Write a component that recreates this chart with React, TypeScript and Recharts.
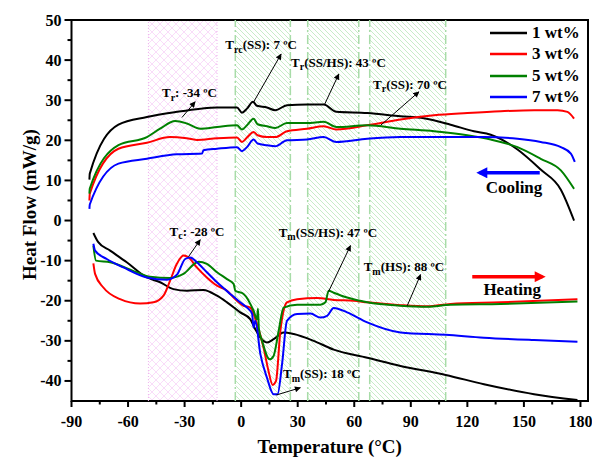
import * as React from "react";
import {
  LineChart,
  Line,
  XAxis,
  YAxis,
  Legend,
  ReferenceArea,
  ReferenceLine,
  ReferenceDot,
} from "recharts";

const FONT = "'Liberation Serif', 'Times New Roman', Times, serif";

// cooling scans (upper curves)
const coolT1 = [-80.5, -80.3, -65.1, -50, -34.1, -21.7, -12.8, -2.2, 0.4, 3.1, 6.3, 8.4, 13.7, 18.1, 24.3, 35, 43.8, 50.5, 66.9, 84.5, 96.9, 111.1, 123.5, 132.4, 146.6, 158.9, 169.6, 176.6];
const coolHF1 = [10.2, 11.7, 23.9, 25.8, 27.1, 27.9, 28.2, 28.2, 26.9, 27.9, 29.6, 28.6, 28.2, 27.5, 28.75, 28.9, 28.9, 27.1, 26.8, 26, 25.5, 23.9, 22.25, 21.4, 17.7, 12.7, 7.7, 0];
const coolT3 = [-80.5, -80.3, -65.1, -50, -37.7, -30, -23.5, -12.8, -2.2, 0.4, 3.1, 6.6, 8.7, 13.7, 18.1, 24.3, 35, 43.8, 50.5, 66.9, 84.5, 102.3, 120, 137.7, 155.4, 167.8, 173.1, 176.6];
const coolHF3 = [5, 6.7, 17.9, 19.4, 20.8, 20.6, 20.1, 20.5, 20.7, 19.6, 20.7, 22.1, 21.25, 20.8, 20.8, 22.25, 22.9, 23.5, 22.7, 23.75, 25.2, 26.25, 26.8, 27.25, 27.5, 27.5, 27.1, 25.4];
const coolT5 = [-80.5, -80.3, -65.1, -50, -43, -35, -28.8, -21.7, -12.8, -2.2, 0.4, 3.1, 6.6, 8.7, 13.7, 18.1, 24.3, 35, 43.8, 50.5, 66.9, 84.5, 102.3, 120, 132.4, 146.6, 158.9, 169.6, 176.6];
const coolHF5 = [6.7, 8, 18.8, 20.8, 22.9, 24.8, 24.2, 22.9, 23.3, 23.75, 22.7, 23.75, 25.4, 24, 23.5, 23.1, 24.3, 24.3, 24.6, 23.3, 23.75, 22.9, 22.25, 21.25, 20.2, 18.3, 15.4, 12.5, 7.9];
const coolT7 = [-80.5, -80.3, -65.1, -50, -34.1, -20.8, -20, -12.8, -2.2, 0.4, 3.1, 6.6, 8.7, 13.7, 18.1, 24.3, 35, 43.8, 50.5, 66.9, 84.5, 102.3, 128.8, 146.6, 158.9, 169.6, 174.9, 177];
const coolHF7 = [2.9, 4, 14.2, 15.4, 16.5, 16.7, 17.5, 17.9, 18.3, 17.3, 18.3, 20.2, 19.2, 18.75, 18.5, 20, 20.2, 20.8, 19.6, 20.4, 20.8, 20.8, 20.8, 20.4, 19.6, 18.3, 16.7, 14.6];

// heating scans (lower curves)
const heatT1 = [-78.4, -75.8, -69.5, -60.7, -50, -43, -35.9, -28.8, -20, -12.8, -7.5, -0.5, 4.8, 7.5, 10.2, 13.7, 17.2, 22.5, 27.9, 38.5, 49.1, 66.9, 84.5, 108.5, 128.8, 155.4, 178.4];
const heatHF1 = [-3.1, -5.4, -7.5, -10.4, -14.2, -15.4, -17.1, -17.5, -17.3, -18.75, -20.4, -22.9, -24.6, -27.1, -29.2, -30.4, -29.6, -27.9, -28.3, -30, -32.2, -34.2, -36.25, -38.5, -40.8, -43.3, -44.75];
const heatT3 = [-78.4, -77.5, -73.1, -64.2, -53.6, -46.5, -41.2, -37.7, -34.1, -30.6, -27.9, -23.5, -18.2, -12.8, -7.5, -4, 1.3, 4.8, 8.4, 11.9, 14.5, 16.7, 18.5, 20.8, 22.5, 24.3, 29.7, 40.3, 49.1, 59.7, 66.9, 84.5, 98.7, 111.1, 137.7, 178.4];
const heatHF3 = [-10.7, -13.3, -16.7, -19.6, -20.7, -20.4, -18.75, -15, -10.8, -8.75, -9.2, -11.7, -14.2, -16.25, -17.5, -19.2, -21.25, -21.7, -25.8, -31.7, -37.5, -41, -40, -27.5, -22.5, -20.4, -19.6, -19.3, -19.8, -20, -20.4, -21.1, -21.4, -20.8, -20.4, -19.6];
const heatT5 = [-78.4, -77, -69.5, -55.4, -48.3, -37.7, -30.6, -22.6, -18.2, -12.8, -7.5, -4, -3.1, 1.3, 6.6, 8.4, 8.9, 9.4, 11.1, 15.1, 17.2, 19.9, 22.5, 29.7, 42, 44.7, 46.4, 49.1, 56.2, 66.9, 84.5, 98.7, 111.1, 137.7, 178.4];
const heatHF5 = [-6.25, -10, -10.4, -12.9, -14, -14.3, -13.3, -10.25, -10.8, -12.9, -14.6, -15.8, -17.5, -18.3, -22.5, -24.6, -22, -27, -30, -34.6, -33.75, -27.5, -21.7, -21, -21, -20.4, -17.5, -18, -19.2, -20.4, -21.25, -21.5, -21, -20.8, -20.2];
const heatT7 = [-78.4, -77.5, -71.3, -62.5, -50, -39.4, -34.1, -29.7, -27, -23.5, -18.2, -12.8, -5.8, -0.5, 3.1, 5.8, 6.6, 7.5, 10.2, 13.7, 17.2, 19.3, 21.7, 24.3, 29.7, 36.8, 42, 45.6, 49.1, 56.2, 66.9, 84.5, 108.5, 128.8, 155.4, 178.4];
const heatHF7 = [-5.8, -7.5, -9.6, -11.7, -14.2, -14.75, -13.5, -9.6, -9.2, -10.4, -12.9, -15.4, -18.3, -20.4, -21.7, -23.3, -26.7, -25, -33.3, -39.2, -43.3, -43.3, -35.8, -25, -23.3, -23.2, -24.2, -23.75, -21.8, -22.9, -25.4, -27.9, -28.5, -29.2, -29.8, -30.2];

const seriesNames = ["1 wt%", "3 wt%", "5 wt%", "7 wt%"];
const seriesColors = ["#000000", "#ff0000", "#008000", "#0000ff"];

const xTicks = [-90, -75, -60, -45, -30, -15, 0, 15, 30, 45, 60, 75, 90, 105, 120, 135, 150, 165, 180];
const yTicks = [-40, -35, -30, -25, -20, -15, -10, -5, 0, 5, 10, 15, 20, 25, 30, 35, 40, 45, 50];

// shaded temperature windows
const pinkBand = [-49.2, -12.8];
const greenBands = [[-3.1, 26.1], [35.3, 62.4], [68.2, 108.5]];

// annotations: T<sub><rest>, anchored at (noteT, noteHF)
const noteSubs = ["r", "rc", "r", "r", "c", "m", "m", "m"];
const noteRest = [": -34 ºC", "(SS): 7 ºC", "(SS/HS): 43 ºC", "(SS): 70 ºC", ": -28 ºC", "(SS/HS): 47 ºC", "(HS): 88 ºC", "(SS): 18 ºC"];
const noteT = [-42, -8.4, 26.5, 70, -38, 19.9, 65, 22.2];
const noteHF = [30.8, 42.7, 38.3, 32.9, -3.75, -4, -12.7, -39.3];
const arrowFromT = [-31.4, 6.3, 44.3, 74, -27.9, 46.4, 88.1, 18.7];
const arrowFromHF = [25.7, 29.3, 29, 23.75, -9, -17.7, -21.25, -43.5];
const arrowToT = [-24.4, 21.2, 51.8, 94.3, -21.7, 58, 95.2, 31.4];
const arrowToHF = [29.6, 41.5, 36.5, 32.1, -4.8, -6.25, -13.5, -41.7];

const toPoints = (t: number[], hf: number[]) =>
  t.slice(0, Math.min(t.length, hf.length)).map((v, i) => ({ t: v, hf: hf[i] }));

const curves = [
  { data: toPoints(coolT1, coolHF1), color: seriesColors[0] },
  { data: toPoints(coolT3, coolHF3), color: seriesColors[1] },
  { data: toPoints(coolT5, coolHF5), color: seriesColors[2] },
  { data: toPoints(coolT7, coolHF7), color: seriesColors[3] },
  { data: toPoints(heatT1, heatHF1), color: seriesColors[0] },
  { data: toPoints(heatT3, heatHF3), color: seriesColors[1] },
  { data: toPoints(heatT5, heatHF5), color: seriesColors[2] },
  { data: toPoints(heatT7, heatHF7), color: seriesColors[3] },
];

const XTick = (props: any) => {
  const { x, y, payload } = props;
  const major = payload.value % 30 === 0;
  return (
    <g>
      <line x1={x} y1={y} x2={x} y2={y + (major ? 6 : 3.5)} stroke="#000" strokeWidth={2} />
      {major && (
        <text x={x} y={y + 26} textAnchor="middle" fontFamily={FONT} fontWeight="bold" fontSize={16} fill="#000">
          {payload.value}
        </text>
      )}
    </g>
  );
};

const YTick = (props: any) => {
  const { x, y, payload } = props;
  const major = payload.value % 10 === 0;
  return (
    <g>
      <line x1={x} y1={y} x2={x - (major ? 7 : 4)} y2={y} stroke="#000" strokeWidth={2} />
      {major && (
        <text x={x - 10} y={y + 5.5} textAnchor="end" fontFamily={FONT} fontWeight="bold" fontSize={16} fill="#000">
          {payload.value}
        </text>
      )}
    </g>
  );
};

const noteShape = (sub: string, rest: string) => (p: any) => (
  <text x={p.cx} y={p.cy} fontFamily={FONT} fontWeight="bold" fontSize={13} fill="#000">
    T
    <tspan dy={3.5} fontSize={10}>
      {sub}
    </tspan>
    <tspan dy={-3.5}>{rest}</tspan>
  </text>
);

const wordShape = (word: string) => (p: any) => (
  <text x={p.cx} y={p.cy} fontFamily={FONT} fontWeight="bold" fontSize={17} fill="#000">
    {word}
  </text>
);

const renderLegend = () => (
  <div style={{ fontFamily: FONT, fontWeight: "bold", fontSize: 17, color: "#000" }}>
    {seriesNames.map((name, i) => (
      <div key={name} style={{ display: "flex", alignItems: "center", height: 21.5 }}>
        <svg width={43} height={6}>
          <line x1={1} y1={3} x2={38} y2={3} stroke={seriesColors[i]} strokeWidth={2.5} />
        </svg>
        <span>{name}</span>
      </div>
    ))}
  </div>
);

export default function App() {
  return (
    <div style={{ position: "absolute", left: 0, top: 0 }}>
      <LineChart width={592} height={458} margin={{ top: 20, right: 4, bottom: 0, left: 0 }}>
        <defs>
          <pattern id="greenHatch" width="5" height="5" patternUnits="userSpaceOnUse">
            <path d="M-1,-1 L6,6 M-1,4 L1,6 M4,-1 L6,1" stroke="#c2eac2" strokeWidth="0.9" />
          </pattern>
          <pattern id="pinkHatch" width="8" height="8" patternUnits="userSpaceOnUse">
            <path d="M0,0 L8,8 M8,0 L0,8" stroke="#f6cdf6" strokeWidth="0.7" />
          </pattern>
          <marker id="headBlack" viewBox="0 0 10 10" refX="9" refY="5" markerWidth="7" markerHeight="6" markerUnits="userSpaceOnUse" orient="auto">
            <path d="M0,0 L10,5 L0,10 z" fill="#000" />
          </marker>
          <marker id="headBlue" viewBox="0 0 10 10" refX="7" refY="5" markerWidth="12" markerHeight="11" markerUnits="userSpaceOnUse" orient="auto">
            <path d="M0,0 L10,5 L0,10 z" fill="#0000ff" />
          </marker>
          <marker id="headRed" viewBox="0 0 10 10" refX="7" refY="5" markerWidth="12" markerHeight="11" markerUnits="userSpaceOnUse" orient="auto">
            <path d="M0,0 L10,5 L0,10 z" fill="#ff0000" />
          </marker>
        </defs>
        <XAxis
          type="number"
          dataKey="t"
          domain={[-90, 184]}
          ticks={xTicks}
          interval={0}
          allowDataOverflow
          axisLine={false}
          tickLine={false}
          tickSize={0}
          tickMargin={0}
          tick={<XTick />}
          height={57}
          label={{
            value: "Temperature (°C)",
            position: "insideBottom",
            offset: 5,
            fill: "#000",
            fontSize: 19,
            fontWeight: "bold",
            fontFamily: FONT,
          }}
        />
        <YAxis
          type="number"
          domain={[-45, 50]}
          ticks={yTicks}
          interval={0}
          allowDataOverflow
          axisLine={false}
          tickLine={false}
          tickSize={0}
          tickMargin={0}
          tick={<YTick />}
          width={71.5}
          label={{
            content: (p: any) => {
              const vb = p.viewBox || { x: 0, y: 20, width: 71.5, height: 381 };
              const cx = vb.x + 36;
              const cy = vb.y + vb.height / 2 - 6;
              return (
                <text
                  transform={`translate(${cx},${cy}) rotate(-90)`}
                  textAnchor="middle"
                  fontFamily={FONT}
                  fontWeight="bold"
                  fontSize={19}
                  fill="#000"
                >
                  Heat Flow (mW/g)
                </text>
              );
            },
          }}
        />

        <ReferenceArea x1={pinkBand[0]} x2={pinkBand[1]} fill="url(#pinkHatch)" fillOpacity={1} stroke="none" />
        {pinkBand.map((v) => (
          <ReferenceLine key={`p${v}`} x={v} stroke="#eeb4ee" strokeWidth={1} strokeDasharray="1 2" />
        ))}
        {greenBands.map((b) => (
          <ReferenceArea key={`g${b[0]}`} x1={b[0]} x2={b[1]} fill="url(#greenHatch)" fillOpacity={1} stroke="none" />
        ))}
        {greenBands.flat().map((v) => (
          <ReferenceLine key={`gl${v}`} x={v} stroke="#a8dca8" strokeWidth={1.5} strokeDasharray="9 3 2 3" />
        ))}

        {curves.map((c, i) => (
          <Line
            key={i}
            data={c.data}
            dataKey="hf"
            type="monotone"
            stroke={c.color}
            strokeWidth={2}
            dot={false}
            activeDot={false}
            isAnimationActive={false}
          />
        ))}

        {noteT.map((t, i) => (
          <ReferenceLine
            key={`a${i}`}
            segment={[
              { x: arrowFromT[i], y: arrowFromHF[i] },
              { x: arrowToT[i], y: arrowToHF[i] },
            ]}
            stroke="#000"
            strokeWidth={1}
            markerEnd="url(#headBlack)"
          />
        ))}
        {noteT.map((t, i) => (
          <ReferenceDot key={`n${i}`} x={t} y={noteHF[i]} r={0} shape={noteShape(noteSubs[i], noteRest[i])} />
        ))}

        <ReferenceLine segment={[{ x: 158.4, y: 11.9 }, { x: 126.5, y: 11.9 }]} stroke="#0000ff" strokeWidth={3.5} markerEnd="url(#headBlue)" />
        <ReferenceDot x={129.7} y={6.75} r={0} shape={wordShape("Cooling")} />
        <ReferenceLine segment={[{ x: 122.6, y: -14 }, { x: 159.8, y: -14 }]} stroke="#ff0000" strokeWidth={3.5} markerEnd="url(#headRed)" />
        <ReferenceDot x={128.5} y={-18.5} r={0} shape={wordShape("Heating")} />

        <ReferenceArea x1={-90} x2={184} y1={-45} y2={50} fill="none" stroke="#000" strokeWidth={2} />

        <Legend
          layout="vertical"
          align="center"
          verticalAlign="middle"
          content={renderLegend}
          wrapperStyle={{ position: "absolute", top: 22, left: 489, width: 100, height: 90 }}
        />
      </LineChart>
    </div>
  );
}
